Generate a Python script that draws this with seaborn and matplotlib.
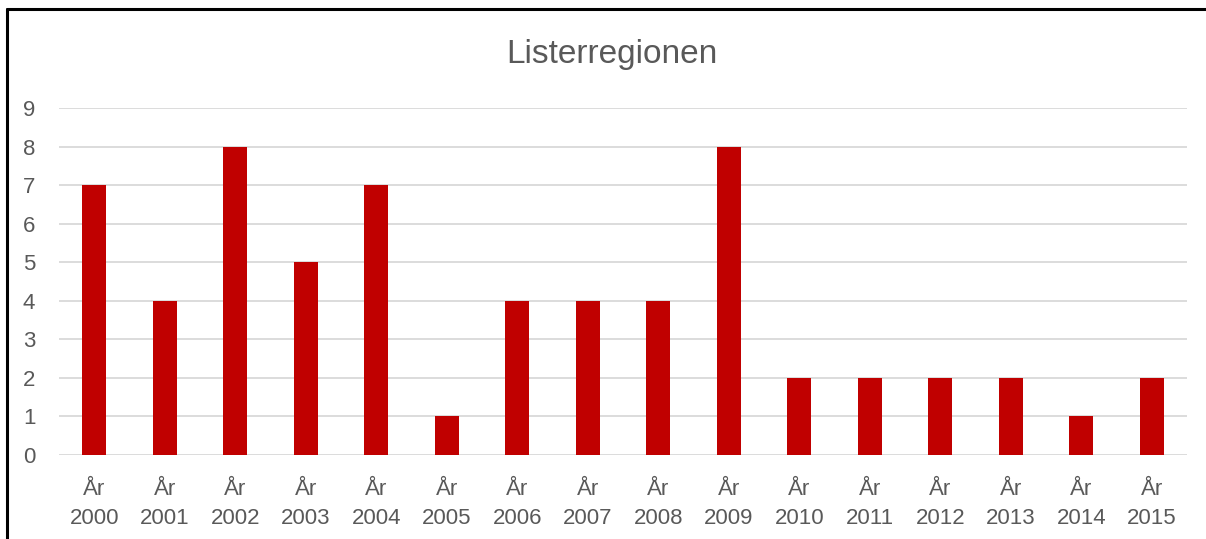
import matplotlib.pyplot as plt
import pandas as pd
import seaborn as sns
from matplotlib.lines import Line2D

# data
years = ['2000', '2001', '2002', '2003', '2004', '2005', '2006', '2007',
         '2008', '2009', '2010', '2011', '2012', '2013', '2014', '2015']
values = [7, 4, 8, 5, 7, 1, 4, 4, 4, 8, 2, 2, 2, 2, 1, 2]
labels = ['År\n' + y for y in years]

df = pd.DataFrame({'label': labels, 'value': values})

sns.set_style('white')
plt.rcParams['font.family'] = ['Liberation Sans', 'DejaVu Sans']

text_col = '#595959'
fig = plt.figure(figsize=(12.06, 5.39), dpi=100)
ax = fig.add_axes([0.0489, 0.1558, 0.9353, 0.6438])

sns.barplot(data=df, x='label', y='value', color='#C00000',
            width=0.34, saturation=1, linewidth=0, ax=ax, zorder=3)

ax.set_ylim(0, 9)
ax.set_yticks(range(0, 10))
ax.grid(axis='y', color='#d9d9d9', linewidth=1.3, zorder=0)
for s in ax.spines.values():
    s.set_visible(False)
ax.set_xlabel('')
ax.set_ylabel('')
ax.tick_params(axis='both', length=0, labelsize=16, colors=text_col)
ax.tick_params(axis='x', pad=17)
ax.tick_params(axis='y', pad=17)
for t in ax.get_xticklabels():
    t.set_linespacing(1.5)

fig.text(0.507, 0.898, 'Listerregionen', ha='center', va='center',
         fontsize=24, color=text_col)

# outer frame (left and top edges visible)
fig.add_artist(Line2D([0.0062, 0.0062], [0, 0.983], color='black', lw=2.2,
                      transform=fig.transFigure))
fig.add_artist(Line2D([0.0062, 1], [0.983, 0.983], color='black', lw=2.2,
                      transform=fig.transFigure))

fig.savefig('out.png', dpi=100)
